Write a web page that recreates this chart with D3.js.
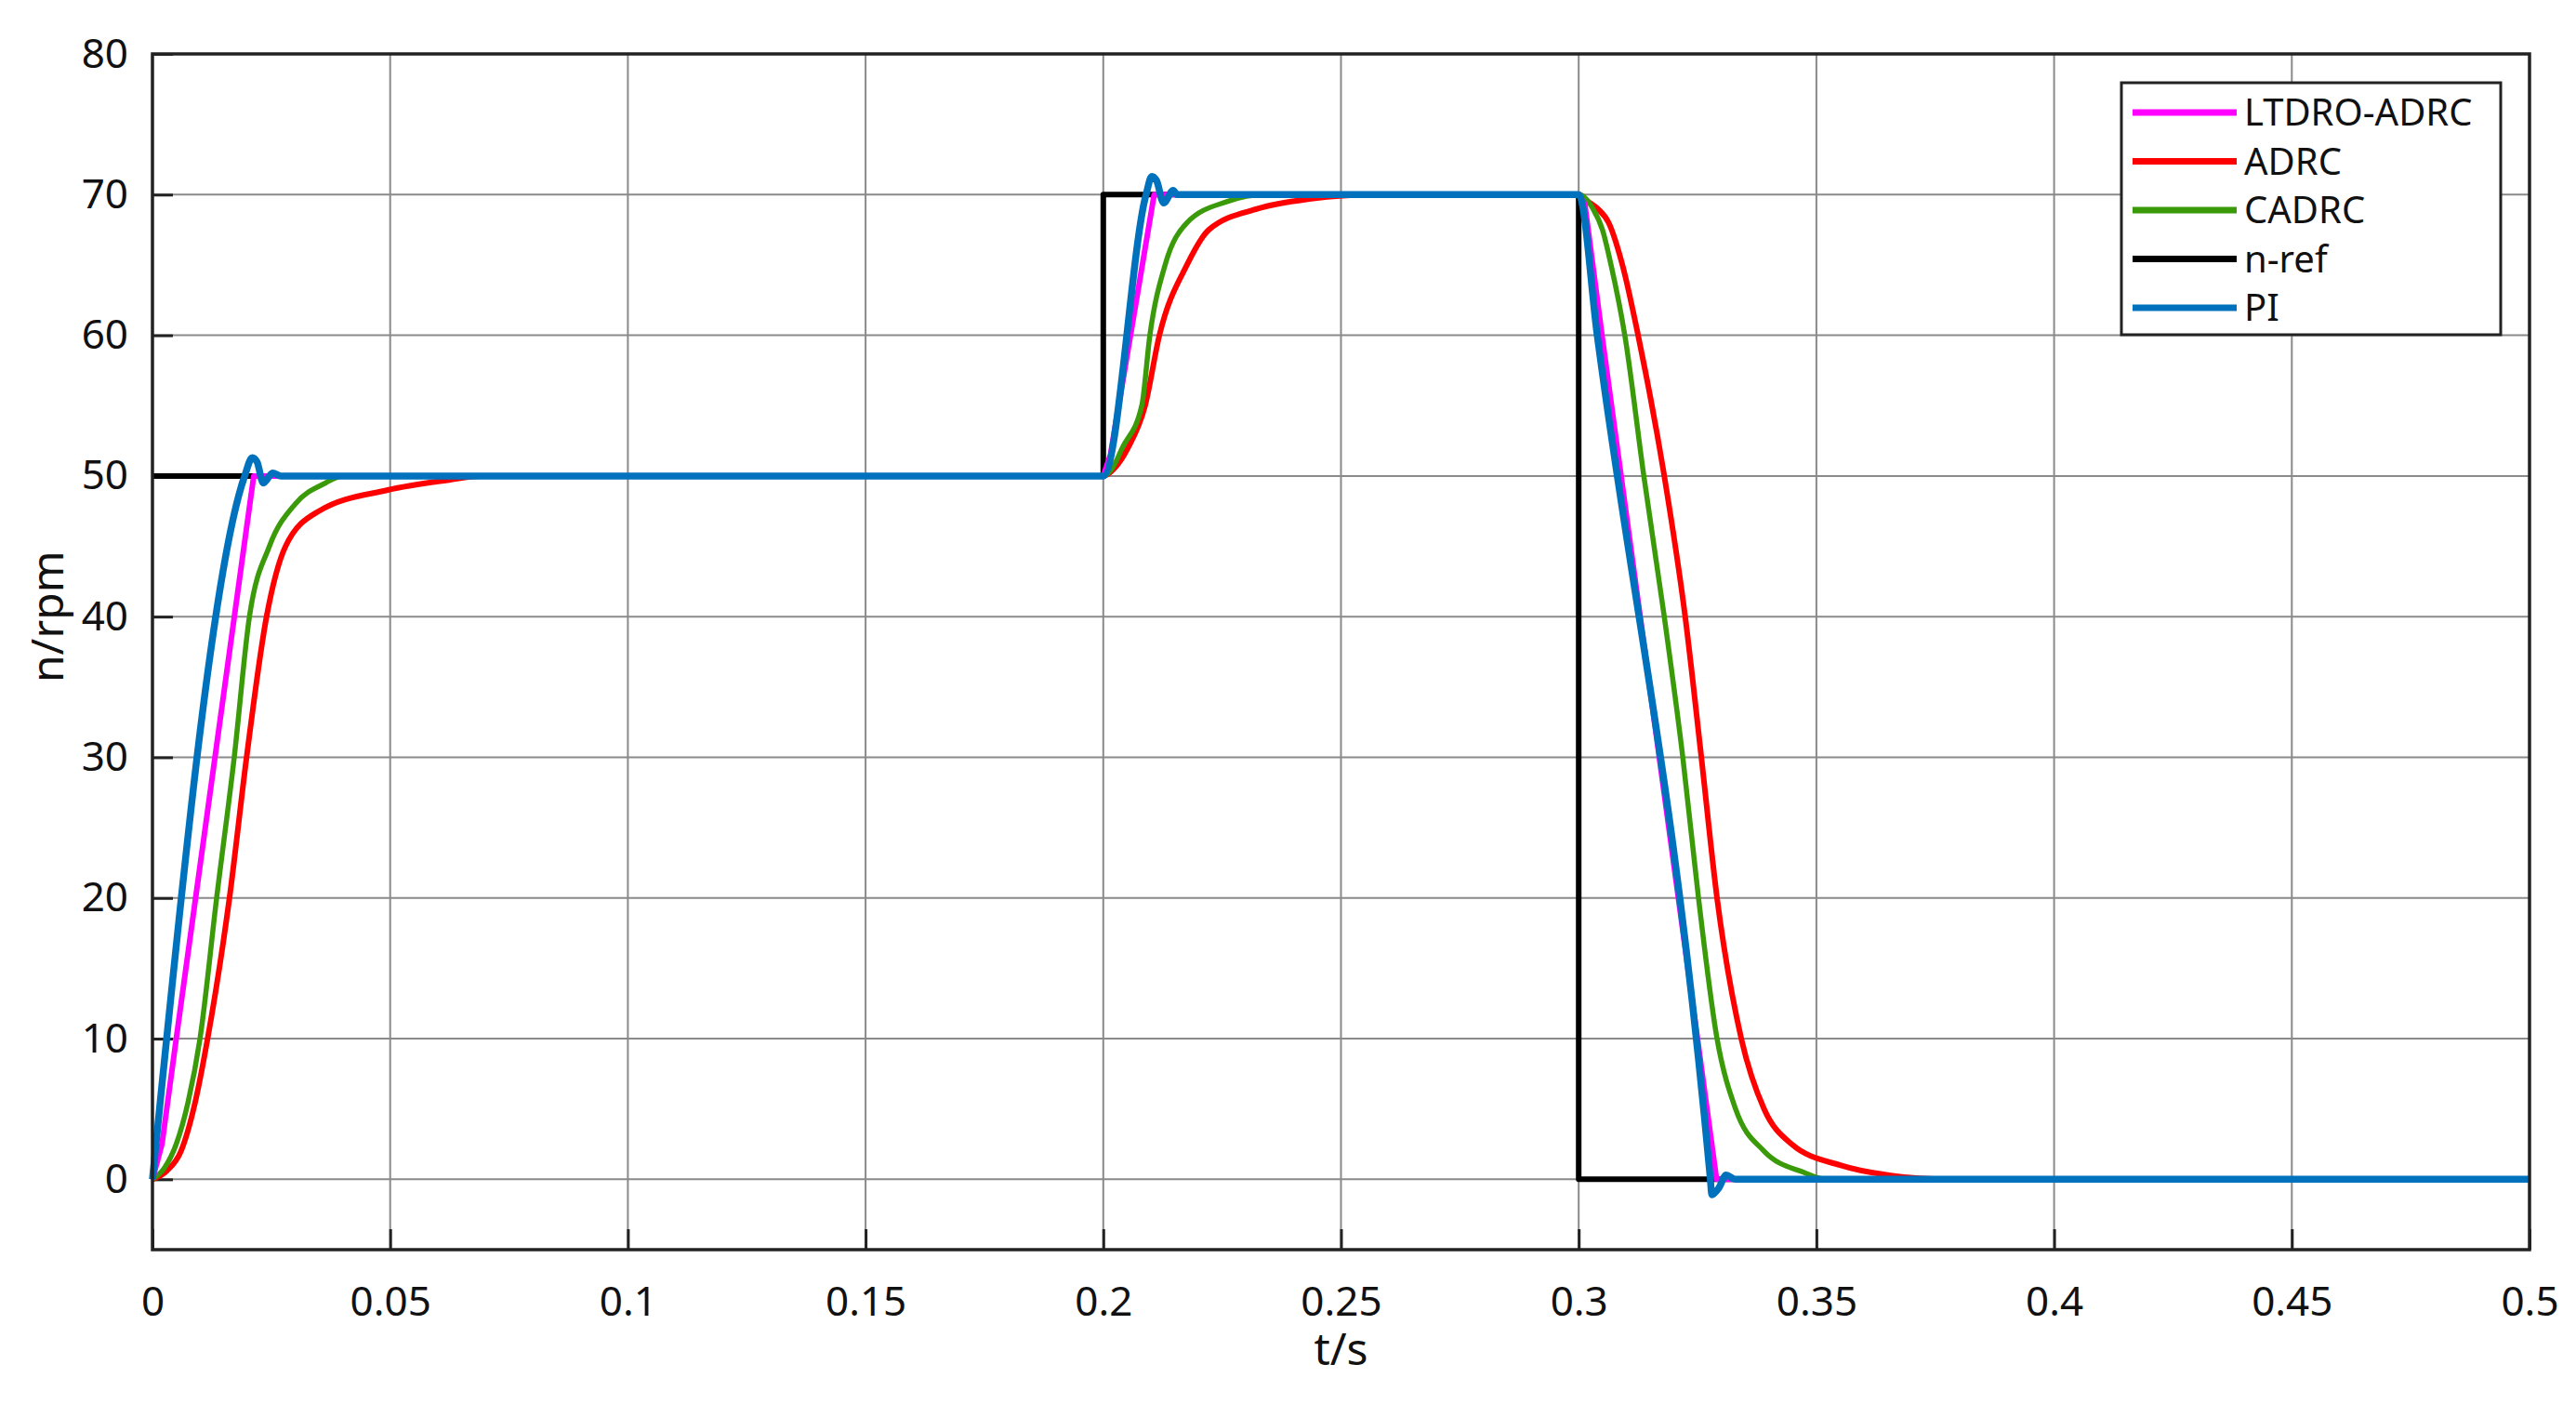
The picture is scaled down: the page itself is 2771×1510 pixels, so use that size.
<!DOCTYPE html>
<html>
<head>
<meta charset="utf-8">
<script src="https://cdn.jsdelivr.net/npm/d3@7"></script>
<style>
  body { margin: 0; background: #fff; }
  text { font-family: "Noto Sans", sans-serif; fill: #111; }
</style>
</head>
<body>
<div id="chart"></div>
<script>
const width = 2771, height = 1510;
const margin = { top: 58, right: 50, bottom: 166, left: 164 };
const innerWidth = width - margin.left - margin.right;
const innerHeight = height - margin.top - margin.bottom;

const xTicks = [0, 0.05, 0.1, 0.15, 0.2, 0.25, 0.3, 0.35, 0.4, 0.45, 0.5];
const yTicks = [0, 10, 20, 30, 40, 50, 60, 70, 80];

// [t, n] pairs
const nRef = [[0, 50], [0.2, 50], [0.2, 70], [0.3, 70], [0.3, 0], [0.5, 0]];
const adrc = [[0, 0], [0.003, 0.6], [0.006, 2], [0.009, 5.5], [0.0116, 10], [0.0162, 20], [0.0198, 30], [0.024, 40],
  [0.028, 45], [0.035, 47.5], [0.0495, 49], [0.062, 49.7], [0.069, 50], [0.2, 50], [0.2025, 50.6], [0.2052, 52],
  [0.2088, 55], [0.2118, 60], [0.2176, 65], [0.2222, 67.5], [0.2325, 69], [0.2437, 69.7], [0.2567, 70], [0.3, 70],
  [0.302, 69.5], [0.304, 69], [0.3063, 68], [0.3092, 65], [0.3125, 60], [0.318, 50], [0.3224, 40], [0.3258, 30],
  [0.3291, 20], [0.3342, 10], [0.339, 5], [0.3448, 2.5], [0.355, 1], [0.365, 0.3], [0.378, 0], [0.5, 0]];
const cadrc = [[0, 0], [0.0025, 0.8], [0.005, 2.5], [0.0075, 5.5], [0.01, 10], [0.0135, 20], [0.0172, 30], [0.0204, 40],
  [0.0246, 45], [0.030, 48], [0.0364, 49.5], [0.040, 50], [0.2, 50], [0.202, 50.6], [0.204, 52], [0.2081, 55],
  [0.2098, 60], [0.213, 65], [0.2176, 68], [0.226, 69.5], [0.234, 70], [0.3, 70], [0.303, 69], [0.305, 67.5],
  [0.3068, 65], [0.3097, 60], [0.3137, 50], [0.318, 40], [0.3219, 30], [0.3252, 20], [0.3291, 10], [0.333, 5],
  [0.339, 2], [0.3473, 0.5], [0.352, 0], [0.5, 0]];
const ltdro = [[0, 0], [0.002, 2.5], [0.005, 10], [0.0213, 50], [0.2, 50], [0.2015, 51.5], [0.2107, 70], [0.3, 70],
  [0.3013, 69.3], [0.3049, 60], [0.329, 0], [0.5, 0]];
const pi = [[0, 0], [0.0194, 50], [0.021, 51.3], [0.022, 51], [0.0233, 49.5], [0.0253, 50.2], [0.027, 50], [0.2, 50],
  [0.209, 70], [0.2102, 71.3], [0.2112, 71], [0.2127, 69.4], [0.2147, 70.3], [0.2155, 70], [0.3, 70], [0.3039, 60],
  [0.3277, 0], [0.328, -1.1], [0.3295, -0.6], [0.331, 0.3], [0.333, 0], [0.5, 0]];

const seriesNames = ["n-ref", "ADRC", "CADRC", "LTDRO-ADRC", "PI"];
const seriesData = [nRef, adrc, cadrc, ltdro, pi];
const seriesColors = ["#000000", "#ff0000", "#3a9a0a", "#ff00ff", "#0072bd"];
const seriesWidths = [6, 6, 5.5, 6, 7.5];
const seriesCurves = [d3.curveLinear, d3.curveMonotoneX, d3.curveMonotoneX, d3.curveLinear, d3.curveMonotoneX];
const legendOrder = ["LTDRO-ADRC", "ADRC", "CADRC", "n-ref", "PI"];

const svg = d3.select("#chart").append("svg")
  .attr("width", width).attr("height", height);
const g = svg.append("g").attr("transform", `translate(${margin.left},${margin.top})`);

const x = d3.scaleLinear().domain([0, 0.5]).range([0, innerWidth]);
const y = d3.scaleLinear().domain([-5, 80]).range([innerHeight, 0]);

// Grid
g.append("g").selectAll("line").data(xTicks).enter().append("line")
  .attr("x1", d => x(d)).attr("x2", d => x(d)).attr("y1", 0).attr("y2", innerHeight)
  .attr("stroke", "#8a8a8a").attr("stroke-width", 2);
g.append("g").selectAll("line").data(yTicks).enter().append("line")
  .attr("x1", 0).attr("x2", innerWidth).attr("y1", d => y(d)).attr("y2", d => y(d))
  .attr("stroke", "#8a8a8a").attr("stroke-width", 2);

// Axes
const xAxis = g.append("g").attr("transform", `translate(0,${innerHeight})`)
  .call(d3.axisBottom(x).tickValues(xTicks).tickFormat(d => d3.format("")(d)).tickSizeInner(-22).tickSizeOuter(0).tickPadding(40));
const yAxis = g.append("g")
  .call(d3.axisLeft(y).tickValues(yTicks).tickSizeInner(-22).tickSizeOuter(0).tickPadding(26));
[xAxis, yAxis].forEach(a => {
  a.select(".domain").remove();
  a.selectAll("line").attr("stroke", "#222").attr("stroke-width", 3);
  a.selectAll("text").style("font-size", "44px").style("fill", "#111");
});

// Lines
seriesData.forEach((data, i) => {
  const line = d3.line().x(d => x(d[0])).y(d => y(d[1])).curve(seriesCurves[i]);
  g.append("path").datum(data)
    .attr("fill", "none")
    .attr("stroke", seriesColors[i])
    .attr("stroke-width", seriesWidths[i])
    .attr("stroke-linejoin", "round")
    .attr("d", line);
});

// Frame
g.append("rect").attr("width", innerWidth).attr("height", innerHeight)
  .attr("fill", "none").attr("stroke", "#222").attr("stroke-width", 3.5);

// Axis labels
svg.append("text").attr("x", margin.left + innerWidth / 2).attr("y", 1468)
  .attr("text-anchor", "middle").style("font-size", "48px").text("t/s");
svg.append("text").attr("transform", `translate(68,${margin.top + (y(40))}) rotate(-90)`)
  .attr("text-anchor", "middle").style("font-size", "48px").text("n/rpm");

// Legend
const legend = svg.append("g").attr("transform", "translate(2282,89)");
legend.append("rect").attr("width", 408).attr("height", 271)
  .attr("fill", "#fff").attr("stroke", "#222").attr("stroke-width", 3);
legendOrder.forEach((name, i) => {
  const k = seriesNames.indexOf(name);
  const row = legend.append("g").attr("transform", `translate(0,${32 + i * 52.5})`);
  row.append("line").attr("x1", 12).attr("x2", 124)
    .attr("stroke", seriesColors[k]).attr("stroke-width", 7);
  row.append("text").attr("x", 132).attr("dy", "0.36em")
    .style("font-size", "40px").text(name);
});
</script>
</body>
</html>
